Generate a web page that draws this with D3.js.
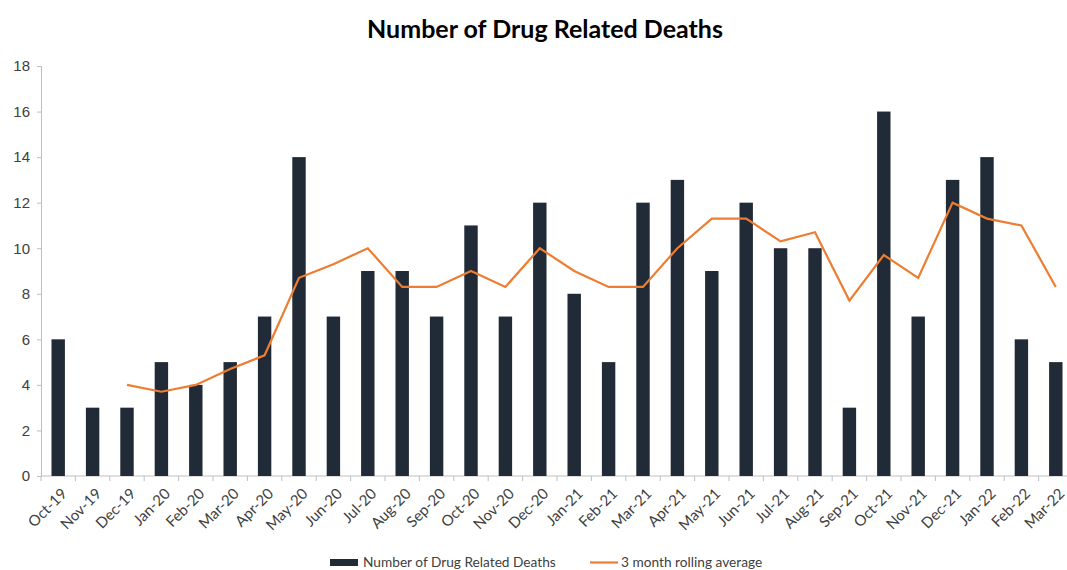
<!DOCTYPE html>
<html>
<head>
<meta charset="utf-8">
<script src="https://cdn.jsdelivr.net/npm/d3@7"></script>
<style>
  html, body { margin: 0; padding: 0; background: #fff; }
  svg { display: block; }
</style>
</head>
<body>
<div id="chart"></div>
<script>
const months = ['Oct-19', 'Nov-19', 'Dec-19', 'Jan-20', 'Feb-20', 'Mar-20', 'Apr-20', 'May-20', 'Jun-20', 'Jul-20',
  'Aug-20', 'Sep-20', 'Oct-20', 'Nov-20', 'Dec-20', 'Jan-21', 'Feb-21', 'Mar-21', 'Apr-21', 'May-21',
  'Jun-21', 'Jul-21', 'Aug-21', 'Sep-21', 'Oct-21', 'Nov-21', 'Dec-21', 'Jan-22', 'Feb-22', 'Mar-22'];

const deaths = [6, 3, 3, 5, 4, 5, 7, 14, 7, 9, 9, 7, 11, 7, 12, 8, 5, 12, 13, 9, 12, 10, 10, 3, 16, 7, 13, 14, 6, 5];

// rolling average (starts at Dec-19)
const rollingMonths = months.slice(2);
const rolling = [4, 3.7, 4, 4.7, 5.3, 8.7, 9.3, 10, 8.3, 8.3, 9, 8.3, 10, 9, 8.3, 8.3, 10, 11.3, 11.3, 10.3, 10.7, 7.7, 9.7, 8.7, 12, 11.3, 11, 8.3];

const yTicks = [0, 2, 4, 6, 8, 10, 12, 14, 16, 18];

const width = 1067, height = 570;
const BAR = '#212a37', LINE = '#ed7d31', TEXT = '#404040', AXIS = '#bfbfbf';

const svg = d3.select('#chart').append('svg')
  .attr('width', width).attr('height', height)
  .style('font-family', 'Lato, "Open Sans", sans-serif');

const x = d3.scaleBand().domain(months).range([41, 1073]).paddingInner(0.61).paddingOuter(0.305);
const y = d3.scaleLinear().domain([0, 18]).range([476, 66]);

svg.append('text')
  .attr('x', 545).attr('y', 38)
  .attr('text-anchor', 'middle')
  .style('font-size', '25px').style('font-weight', 'bold').style('fill', '#000')
  .text('Number of Drug Related Deaths');

// y axis
const yAxis = svg.append('g').attr('transform', 'translate(41,0)')
  .call(d3.axisLeft(y).tickValues(yTicks).tickSize(4).tickPadding(7));
yAxis.select('.domain').attr('stroke', AXIS);
yAxis.selectAll('line').attr('stroke', AXIS);
yAxis.selectAll('text').style('font-size', '15px').style('fill', TEXT).attr('font-family', null);

// x axis: ticks on category boundaries
const gap = x.step() - x.bandwidth();
const xAxisG = svg.append('g').attr('transform', `translate(0,${y(0)})`);
xAxisG.append('line').attr('x1', 41).attr('x2', 1073).attr('stroke', AXIS);
xAxisG.selectAll('.tk').data(months).join('line')
  .attr('class', 'tk')
  .attr('x1', d => x(d) - gap / 2)
  .attr('x2', d => x(d) - gap / 2)
  .attr('y1', 0).attr('y2', 5).attr('stroke', AXIS);
xAxisG.selectAll('.lbl').data(months).join('text')
  .attr('class', 'lbl')
  .attr('transform', d => `translate(${x(d) + x.bandwidth() / 2 + 6},${15}) rotate(-45)`)
  .attr('text-anchor', 'end')
  .attr('dy', '0.35em')
  .style('font-size', '15px').style('fill', TEXT)
  .text(d => d);

// bars
svg.append('g').selectAll('rect').data(months).join('rect')
  .attr('x', (d) => x(d))
  .attr('y', (d, i) => y(deaths[i]))
  .attr('width', x.bandwidth())
  .attr('height', (d, i) => y(0) - y(deaths[i]))
  .attr('fill', BAR);

// rolling average line
const line = d3.line()
  .x(d => x(d[0]) + x.bandwidth() / 2)
  .y(d => y(d[1]));
svg.append('path')
  .datum(rollingMonths.map((m, i) => [m, rolling[i]]))
  .attr('d', line)
  .attr('fill', 'none')
  .attr('stroke', LINE)
  .attr('stroke-width', 2.2);

// legend
const legend = svg.append('g').style('font-size', '13.7px').style('fill', TEXT);
legend.append('rect').attr('x', 330).attr('y', 559).attr('width', 28).attr('height', 7).attr('fill', BAR);
legend.append('text').attr('x', 363).attr('y', 567).text('Number of Drug Related Deaths');
legend.append('line').attr('x1', 590).attr('x2', 618).attr('y1', 562.5).attr('y2', 562.5)
  .attr('stroke', LINE).attr('stroke-width', 2.2);
legend.append('text').attr('x', 621).attr('y', 567).text('3 month rolling average');
</script>
</body>
</html>
